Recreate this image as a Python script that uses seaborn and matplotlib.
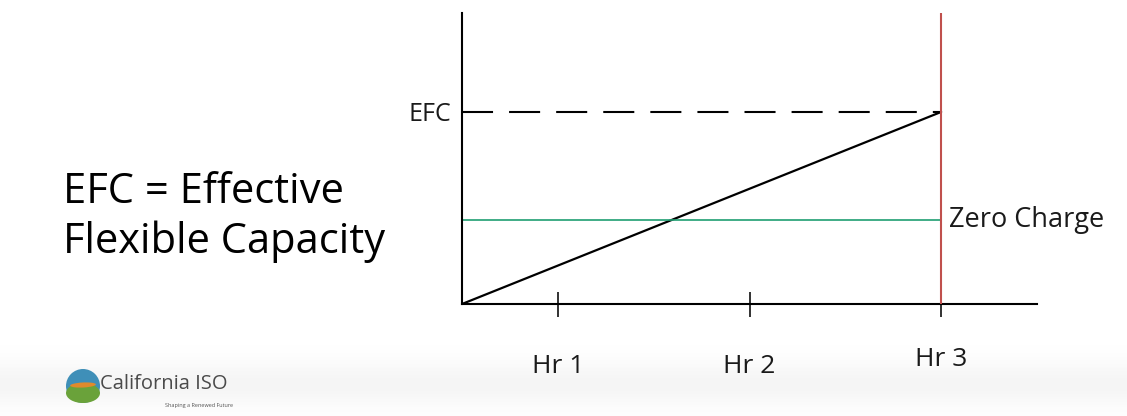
import matplotlib.pyplot as plt
import matplotlib.patches as mpatches
import seaborn as sns
import pandas as pd
import numpy as np

# chart values
hours = [0.5, 3.0]          # ramp start / end (Hr 3)
charge = [0.0, 0.66]        # 0 -> EFC
efc_level = 0.66
zero_charge_level = 0.29
tick_pos = [1, 2, 3]
tick_labels = ['Hr 1', 'Hr 2', 'Hr 3']

sns.set_theme(style='white')
plt.rcParams['font.family'] = ['Open Sans', 'DejaVu Sans']

fig = plt.figure(figsize=(11.27, 4.16), dpi=100)

# faint slide background band at the bottom
bg = fig.add_axes([0, 0, 1, 90 / 416], zorder=-10)
grad = np.linspace(0, 1, 60)
band = np.exp(-((grad - 0.35) / 0.25) ** 2)
bg.imshow(band[:, None] * np.ones((1, 10)), aspect='auto', cmap='Greys',
          vmin=0, vmax=12, extent=[0, 1, 0, 1], origin='lower')
bg.axis('off')

ax = fig.add_axes([462 / 1127, 112 / 416, 575 / 1127, 291 / 416])
ax.patch.set_alpha(0)

ramp = pd.DataFrame({'hour': hours, 'charge': charge})
sns.lineplot(data=ramp, x='hour', y='charge', color='black', linewidth=1.6, ax=ax)

ax.hlines(efc_level, hours[0], hours[1], colors='black', linewidth=1.5,
          linestyles=(0, (14.9, 7.7)))
ax.hlines(zero_charge_level, hours[0], hours[1], colors='#1f9e72', linewidth=1.2)
ax.axvline(hours[1], color='#c0504d', linewidth=1.5, zorder=5)

ax.set_xlim(0.5, 3.5)
ax.set_ylim(0, 1)
ax.set_xlabel('')
ax.set_ylabel('')
ax.set_xticks(tick_pos, tick_labels)
ax.set_yticks([efc_level], ['EFC'])
ax.tick_params(axis='x', direction='inout', length=18, width=1.3, color='#222222',
               pad=27, labelsize=19, labelcolor='#1a1a1a', bottom=True)
ax.tick_params(axis='y', length=0, pad=8, labelsize=18, labelcolor='#1a1a1a', left=True)
ax.get_xticklabels()[2].set_y(0.025)

for s in ['top', 'right']:
    ax.spines[s].set_visible(False)
for s in ['left', 'bottom']:
    ax.spines[s].set_color('black')
    ax.spines[s].set_linewidth(1.5)

ax.text(3.04, zero_charge_level, 'Zero Charge', va='center', ha='left',
        fontsize=19.5, color='#1a1a1a', clip_on=False)

fig.text(63 / 1127, 1 - 217 / 416, 'EFC = Effective\nFlexible Capacity', ha='left',
         va='center', fontsize=30, color='black', linespacing=1.25)

# logo
cx, cy = 83 / 1127, 1 - 386 / 416
fig.patches.append(mpatches.Ellipse((cx, cy), 34 / 1127, 34 / 416, transform=fig.transFigure,
                                    facecolor='#3f8fb8', edgecolor='none'))
fig.patches.append(mpatches.Ellipse((cx, cy - 7 / 416), 34 / 1127, 20 / 416,
                                    transform=fig.transFigure, facecolor='#6aa23a',
                                    edgecolor='none'))
fig.patches.append(mpatches.Ellipse((cx, cy + 1 / 416), 26 / 1127, 5 / 416, angle=10,
                                    transform=fig.transFigure, facecolor='#e08a2c',
                                    edgecolor='none'))
fig.text(100 / 1127, 1 - 384 / 416, 'California ISO', ha='left', va='center',
         fontsize=14.5, color='#4a4a4a')
fig.text(165 / 1127, 1 - 406 / 416, 'Shaping a Renewed Future', ha='left', va='center',
         fontsize=4, color='#555555')

fig.savefig('out.png', dpi=100)
